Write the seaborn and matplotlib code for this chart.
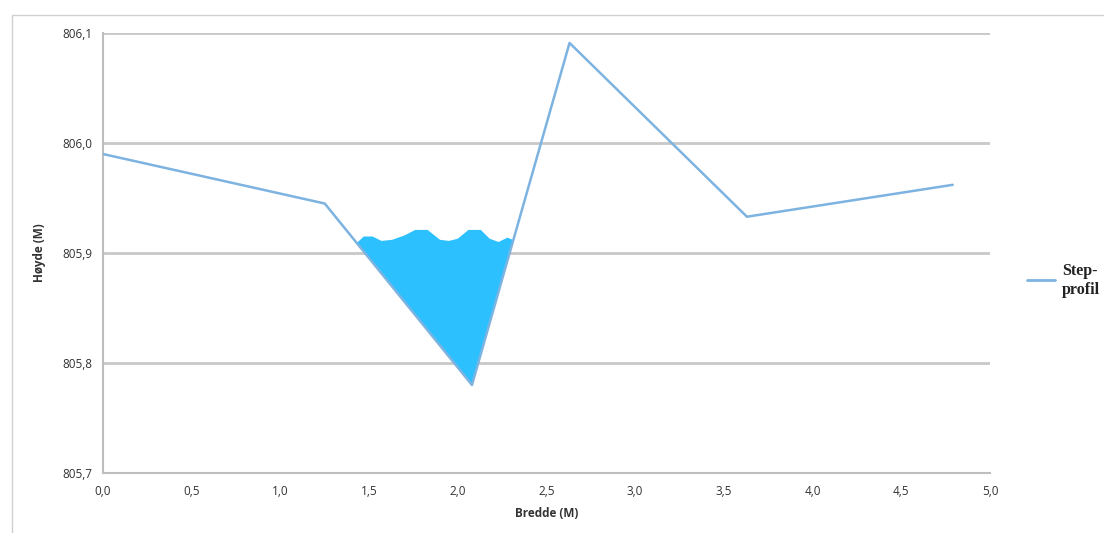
import pandas as pd
import seaborn as sns
import matplotlib.pyplot as plt
from matplotlib.ticker import FuncFormatter, MultipleLocator
from matplotlib.patches import Rectangle
from matplotlib.lines import Line2D

# Data: channel cross-section (width, height)
bredde = [0.0, 1.25, 2.08, 2.63, 3.63, 4.79]
hoyde = [805.990, 805.945, 805.780, 806.091, 805.933, 805.962]

# Water body outline (surface with small waves, then down to the bed)
water_x = [1.43, 1.47, 1.52, 1.57, 1.63, 1.70, 1.76, 1.83, 1.90, 1.95, 2.00,
           2.06, 2.13, 2.18, 2.23, 2.28, 2.31, 2.08]
water_y = [805.909, 805.915, 805.915, 805.911, 805.912, 805.916, 805.921, 805.921,
           805.912, 805.911, 805.913, 805.921, 805.921, 805.913, 805.910,
           805.914, 805.912, 805.780]

df = pd.DataFrame({"Bredde": bredde, "Hoyde": hoyde})

sns.set_style("white")
plt.rcParams['font.family'] = ['Open Sans', 'DejaVu Sans']

fig = plt.figure(figsize=(11.04, 5.33), dpi=100)
ax = fig.add_axes([0.0933, 0.1126, 0.8034, 0.8254])

line_color = "#7DB3E0"
ax.fill(water_x, water_y, color="#2CC0FF", zorder=1, lw=0)
sns.lineplot(data=df, x="Bredde", y="Hoyde", ax=ax, color=line_color,
             linewidth=1.8, zorder=3, legend=False)

ax.set_xlim(0, 5)
ax.set_ylim(805.7, 806.1)
ax.xaxis.set_major_locator(MultipleLocator(0.5))
ax.yaxis.set_major_locator(MultipleLocator(0.1))
comma = FuncFormatter(lambda v, p: f"{v:.1f}".replace(".", ","))
ax.xaxis.set_major_formatter(comma)
ax.yaxis.set_major_formatter(comma)

ax.grid(axis="y", color="#C8C8C8", linewidth=2, zorder=0)
ax.set_axisbelow(True)
for s in ["top", "right"]:
    ax.spines[s].set_visible(False)
for s in ["left", "bottom"]:
    ax.spines[s].set_color("#BEBEBE")
    ax.spines[s].set_linewidth(1.5)
ax.tick_params(axis="both", length=4, width=1.2, color="#BEBEBE",
               labelsize=8.5, labelcolor="#333333", direction="out")
ax.tick_params(axis="x", pad=5)

ax.set_xlabel("Bredde (M)", fontsize=8.5, fontweight="bold", color="#333333", labelpad=6)
ax.set_ylabel("Høyde (M)", fontsize=8.5, fontweight="bold", color="#333333", labelpad=12)

# outer chart frame
fig.patches.append(Rectangle((0.011, -0.1), 1.1, 1.072, transform=fig.transFigure,
                             fill=False, edgecolor="#D0D0D0", linewidth=1))

# legend at the right edge
fig.lines.append(Line2D([0.930, 0.956], [0.474, 0.474], transform=fig.transFigure,
                        color=line_color, linewidth=2))
fig.text(0.962, 0.474, "Step-\nprofil", fontsize=11.5, fontweight="bold",
         family=["Liberation Serif", "DejaVu Serif"], va="center", ha="left",
         color="#222222", linespacing=1.3)

fig.savefig("out.png", dpi=100)
